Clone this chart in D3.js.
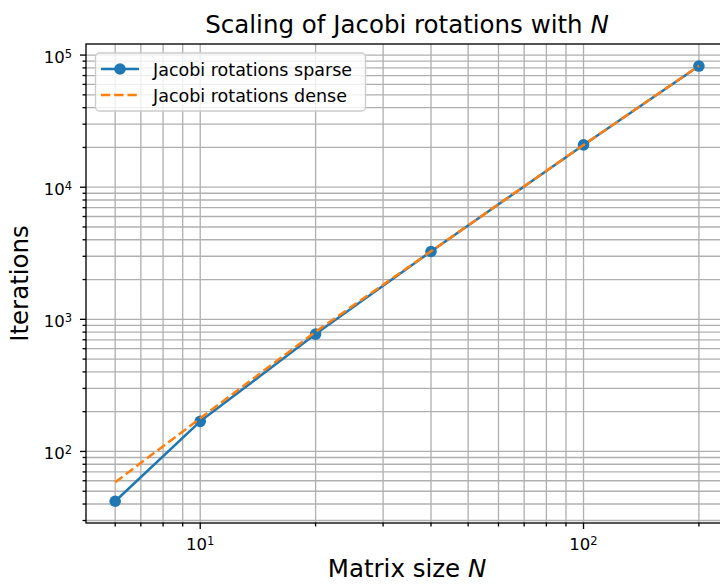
<!DOCTYPE html>
<html>
<head>
<meta charset="utf-8">
<script src="https://cdn.jsdelivr.net/npm/d3@7"></script>
<style>
  html, body { margin: 0; padding: 0; background: #fff; overflow: hidden; }
  svg { display: block; font-family: "DejaVu Sans", sans-serif; }
</style>
</head>
<body>
<svg id="chart" width="720" height="584"></svg>
<script>
// ---- data ----
const sizes = [6, 10, 20, 40, 100, 200];
const sparseIter = [42, 169, 773, 3260, 20900, 82600];
const denseIter = [58.5, 178, 805, 3270, 20900, 83000];
const seriesNames = ["Jacobi rotations sparse", "Jacobi rotations dense"];
const xMajorTicks = [10, 100];
const yMajorTicks = [100, 1000, 10000, 100000];
const titleText = "Scaling of Jacobi rotations with ";
const xLabelText = "Matrix size ";
const yLabelText = "Iterations";

(function () {
// ---- layout ----
const pL = 86, pT = 44, pB = 523;
const svg = d3.select("#chart");

// log margins 5% like matplotlib
const lx = d3.extent(sizes.map(Math.log10));
const mx = (lx[1] - lx[0]) * 0.05;
const allY = sparseIter.concat(denseIter).map(Math.log10);
const lyE = d3.extent(allY);
const my = (lyE[1] - lyE[0]) * 0.05;

const decadeX = 383.3;
const pR = pL + (lx[1] - lx[0] + 2 * mx) * decadeX;

const x = d3.scaleLog().domain([10 ** (lx[0] - mx), 10 ** (lx[1] + mx)]).range([pL, pR]);
const y = d3.scaleLog().domain([10 ** (lyE[0] - my), 10 ** (lyE[1] + my)]).range([pB, pT]);

const blue = "#1f77b4", orange = "#ff7f0e", gridC = "#b0b0b0";

function minorTicks(scale) {
  const [a, b] = scale.domain();
  const out = [];
  for (let e = Math.floor(Math.log10(a)); e <= Math.ceil(Math.log10(b)); e++) {
    for (let m = 2; m <= 9; m++) {
      const v = m * 10 ** e;
      if (v >= a && v <= b) out.push(v);
    }
  }
  return out;
}
const xMinor = minorTicks(x), yMinor = minorTicks(y);

// grid
const g = svg.append("g");
g.selectAll(".gx").data(xMajorTicks.concat(xMinor)).enter().append("line")
  .attr("x1", d => x(d)).attr("x2", d => x(d)).attr("y1", pT).attr("y2", pB)
  .attr("stroke", gridC).attr("stroke-width", 1.33);
g.selectAll(".gy").data(yMajorTicks.concat(yMinor)).enter().append("line")
  .attr("x1", pL).attr("x2", pR).attr("y1", d => y(d)).attr("y2", d => y(d))
  .attr("stroke", gridC).attr("stroke-width", 1.33);

// lines
const line = d3.line().x(d => x(d[0])).y(d => y(d[1]));
const sparseData = sizes.map((s, i) => [s, sparseIter[i]]);
const denseData = sizes.map((s, i) => [s, denseIter[i]]);

svg.append("path").datum(sparseData).attr("d", line)
  .attr("fill", "none").attr("stroke", blue).attr("stroke-width", 2.5).attr("stroke-linejoin", "round");
svg.selectAll(".pt").data(sparseData).enter().append("circle")
  .attr("cx", d => x(d[0])).attr("cy", d => y(d[1])).attr("r", 5.8).attr("fill", blue);
svg.append("path").datum(denseData).attr("d", line)
  .attr("fill", "none").attr("stroke", orange).attr("stroke-width", 2.5)
  .attr("stroke-dasharray", "9.25,4");

// spines
svg.append("rect").attr("x", pL).attr("y", pT).attr("width", pR - pL).attr("height", pB - pT)
  .attr("fill", "none").attr("stroke", "#000").attr("stroke-width", 1.33);

// ticks
const tk = svg.append("g").attr("stroke", "#000").attr("stroke-width", 1.33);
tk.selectAll(".xt").data(xMajorTicks).enter().append("line")
  .attr("x1", d => x(d)).attr("x2", d => x(d)).attr("y1", pB).attr("y2", pB + 6);
tk.selectAll(".xm").data(xMinor).enter().append("line")
  .attr("x1", d => x(d)).attr("x2", d => x(d)).attr("y1", pB).attr("y2", pB + 3.5);
tk.selectAll(".yt").data(yMajorTicks).enter().append("line")
  .attr("x1", pL - 6).attr("x2", pL).attr("y1", d => y(d)).attr("y2", d => y(d));
tk.selectAll(".ym").data(yMinor).enter().append("line")
  .attr("x1", pL - 3.5).attr("x2", pL).attr("y1", d => y(d)).attr("y2", d => y(d));

function powLabel(sel) {
  sel.append("tspan").text("10");
  sel.append("tspan").attr("dy", -5.5).attr("font-size", 11.5).text(d => Math.round(Math.log10(d)));
}
svg.selectAll(".xl").data(xMajorTicks).enter().append("text")
  .attr("x", d => x(d)).attr("y", pB + 27).attr("text-anchor", "middle")
  .attr("font-size", 16.5).attr("fill", "#000").call(powLabel);
svg.selectAll(".yl").data(yMajorTicks).enter().append("text")
  .attr("x", pL - 14).attr("y", d => y(d) + 8).attr("text-anchor", "end")
  .attr("font-size", 16.5).attr("fill", "#000").call(powLabel);

// title and labels
const t = svg.append("text").attr("x", (pL + pR) / 2).attr("y", 33).attr("text-anchor", "middle")
  .attr("font-size", 24.5).attr("fill", "#000");
t.append("tspan").text(titleText);
t.append("tspan").attr("font-style", "italic").text("N");

const xl = svg.append("text").attr("x", (pL + pR) / 2).attr("y", 577).attr("text-anchor", "middle")
  .attr("font-size", 24.5).attr("fill", "#000");
xl.append("tspan").text(xLabelText);
xl.append("tspan").attr("font-style", "italic").text("N");

svg.append("text").attr("transform", `translate(28,${(pT + pB) / 2}) rotate(-90)`)
  .attr("text-anchor", "middle").attr("font-size", 24.5).attr("fill", "#000").text(yLabelText);

// legend
const lg = svg.append("g");
lg.append("rect").attr("x", 95.5).attr("y", 53).attr("width", 270).attr("height", 58).attr("rx", 4)
  .attr("fill", "#fff").attr("fill-opacity", 0.8).attr("stroke", "#cccccc").attr("stroke-width", 1.33);
const ly1 = 69, ly2 = 95;
lg.append("line").attr("x1", 101).attr("x2", 139).attr("y1", ly1).attr("y2", ly1)
  .attr("stroke", blue).attr("stroke-width", 2.5);
lg.append("circle").attr("cx", 120).attr("cy", ly1).attr("r", 5.8).attr("fill", blue);
lg.append("line").attr("x1", 101).attr("x2", 139).attr("y1", ly2).attr("y2", ly2)
  .attr("stroke", orange).attr("stroke-width", 2.5).attr("stroke-dasharray", "9.25,4");
lg.append("text").attr("x", 153).attr("y", ly1 + 6.5).attr("font-size", 17.5).attr("fill", "#000").text(seriesNames[0]);
lg.append("text").attr("x", 153).attr("y", ly2 + 6.5).attr("font-size", 17.5).attr("fill", "#000").text(seriesNames[1]);
})();
</script>
</body>
</html>
